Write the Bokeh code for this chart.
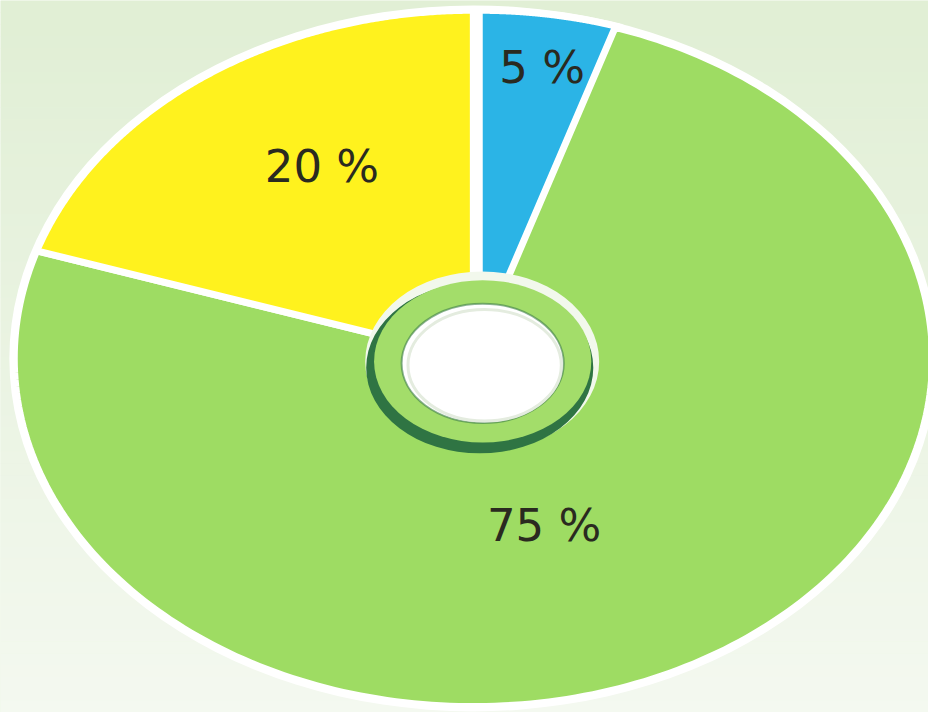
import numpy as np
from bokeh.plotting import figure
from bokeh.models import Range1d, ColumnDataSource
from bokeh.core.properties import value
from bokeh.embed import file_html
from bokeh.resources import INLINE

# ---- data ----
labels = ["5 %", "75 %", "20 %"]
shares = [5, 75, 20]
colors = ["#2bb4e6", "#9edc63", "#fff21e"]

# ---- layout constants (pixel coordinates of the 944x728 picture) ----
W, H = 928, 712
PW, PH = 944, 728
cx, cy, rx, ry = 481, 366, 467, 356
explode_dx = [6, 0, 0]
explode_dy = [0, 0, 0]
label_xy = [(551, 68), (553, 537), (327, 170)]

p = figure(width=W, height=H, output_backend="svg", toolbar_location=None,
           x_range=Range1d(0, PW), y_range=Range1d(PH, 0),
           min_border=0, outline_line_color=None)
p.axis.visible = False
p.grid.visible = False
p.background_fill_color = "#e6f1dc"
p.border_fill_color = "#e6f1dc"

# soft vertical background gradient
n = 60
tops = np.linspace(0, PH, n + 1)
c0 = np.array([0xE1, 0xEF, 0xD5])
c1 = np.array([0xF4, 0xF9, 0xF0])
bg_cols = []
for i in range(n):
    f = i / (n - 1)
    c = (c0 * (1 - f) + c1 * f).astype(int)
    bg_cols.append("#%02x%02x%02x" % tuple(c))
p.quad(left=0, right=PW, top=tops[:-1], bottom=tops[1:] + 0.5,
       fill_color=bg_cols, line_color=None)

# white rim
p.ellipse(x=cx, y=cy, width=2 * rx + 10, height=2 * ry + 10,
          fill_color="white", line_color=None)

# slices: parametric angle measured clockwise from top
total = float(sum(shares))
edges = np.concatenate([[0], np.cumsum(shares)]) / total * 2 * np.pi
xs_list, ys_list = [], []
for i in range(len(shares)):
    t = np.linspace(edges[i], edges[i + 1], 240)
    ox, oy = cx + explode_dx[i], cy + explode_dy[i]
    xs_list.append([ox] + list(ox + rx * np.sin(t)) + [ox])
    ys_list.append([oy] + list(oy - ry * np.cos(t)) + [oy])
src = ColumnDataSource(dict(xs=xs_list, ys=ys_list, color=colors, label=labels))
p.patches("xs", "ys", source=src, fill_color="color", line_color="white",
          line_width=7, line_join="round")

# central hub ring
p.ellipse(x=490, y=369, width=238, height=184, fill_color="#f2f8ec", line_color=None)
p.ellipse(x=487.5, y=375.5, width=231, height=175, fill_color="#2f7443", line_color=None)
p.ellipse(x=490.5, y=369, width=221, height=166, fill_color="#a3dd6a", line_color=None)
p.ellipse(x=490.5, y=371, width=165, height=122, fill_color="white",
          line_color="#3d7d4a", line_width=2, line_alpha=0.6)
p.ellipse(x=492.5, y=373, width=156, height=114, fill_color="white",
          line_color="#e4ecdf", line_width=3)

# labels
p.text(x=[a for a, b in label_xy], y=[b for a, b in label_xy], text=labels,
       text_font=value("DejaVu Sans"), text_font_size="45px",
       text_align="center", text_baseline="middle", text_color="#2a2a20")

open("out.html", "w").write(file_html(p, INLINE))
